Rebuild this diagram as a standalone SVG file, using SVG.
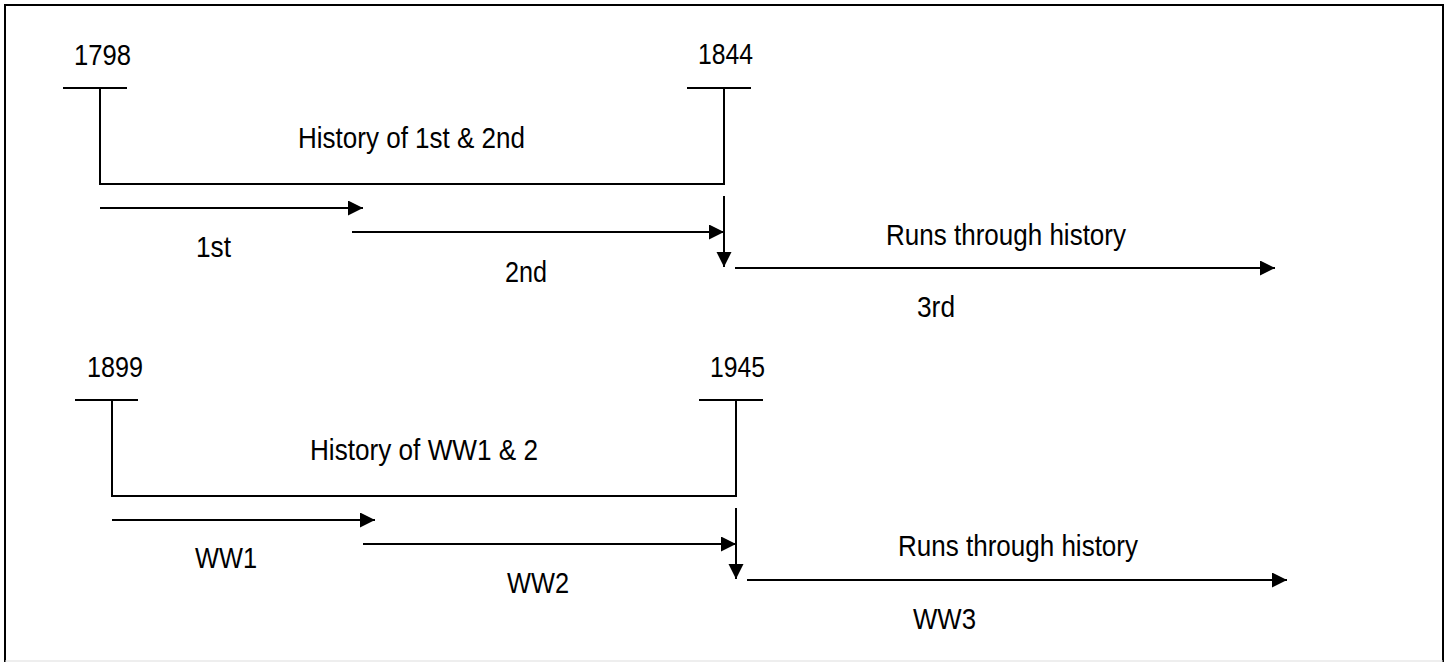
<svg xmlns="http://www.w3.org/2000/svg" width="1449" height="662" viewBox="0 0 1449 662">
<style>
.ln{stroke:#000;stroke-width:2;fill:none}
.t{font-family:"Liberation Sans Narrow","Liberation Sans",Arial,sans-serif;font-size:30px;fill:#000}
</style>
<defs>
<marker id="ah" markerUnits="userSpaceOnUse" markerWidth="16" markerHeight="16" refX="15" refY="7.5" orient="auto" viewBox="0 0 16 16">
<path d="M0,0 L15,7.5 L0,15 z" fill="#000"/>
</marker>
</defs>
<rect x="0" y="0" width="1449" height="662" fill="#fff"/>
<g id="frame">
<path class="ln" d="M5,662 V5 H1443 V662"/>
<line x1="5" y1="661" x2="1443" y2="661" stroke="#ddd" stroke-width="1"/>
</g>
<g id="timeline1">
<g id="y1798"><text class="t" x="74" y="65" textLength="57" lengthAdjust="spacingAndGlyphs">1798</text><line class="ln" x1="63" y1="88" x2="127" y2="88"/></g>
<g id="y1844"><text class="t" x="698" y="64" textLength="55" lengthAdjust="spacingAndGlyphs">1844</text><line class="ln" x1="687" y1="88" x2="751" y2="88"/></g>
<g id="hist1"><text class="t" x="298" y="148" textLength="227" lengthAdjust="spacingAndGlyphs">History of 1st &amp; 2nd</text></g>
<g id="l1st"><text class="t" x="196" y="257" textLength="35" lengthAdjust="spacingAndGlyphs">1st</text></g>
<g id="l2nd"><text class="t" x="505" y="282" textLength="42" lengthAdjust="spacingAndGlyphs">2nd</text></g>
<g id="runs1"><text class="t" x="886" y="245" textLength="240" lengthAdjust="spacingAndGlyphs">Runs through history</text></g>
<g id="l3rd"><text class="t" x="917" y="317" textLength="38" lengthAdjust="spacingAndGlyphs">3rd</text></g>
</g>
<g id="timeline2">
<g id="y1899"><text class="t" x="87" y="377" textLength="56" lengthAdjust="spacingAndGlyphs">1899</text><line class="ln" x1="75" y1="400" x2="138" y2="400"/></g>
<g id="y1945"><text class="t" x="710" y="377" textLength="55" lengthAdjust="spacingAndGlyphs">1945</text><line class="ln" x1="699" y1="400" x2="763" y2="400"/></g>
<g id="hist2"><text class="t" x="310" y="460" textLength="228" lengthAdjust="spacingAndGlyphs">History of WW1 &amp; 2</text></g>
<g id="lww1"><text class="t" x="195" y="568" textLength="62" lengthAdjust="spacingAndGlyphs">WW1</text></g>
<g id="lww2"><text class="t" x="507" y="593" textLength="62" lengthAdjust="spacingAndGlyphs">WW2</text></g>
<g id="runs2"><text class="t" x="898" y="556" textLength="240" lengthAdjust="spacingAndGlyphs">Runs through history</text></g>
<g id="lww3"><text class="t" x="913" y="629" textLength="63" lengthAdjust="spacingAndGlyphs">WW3</text></g>
</g>
<g id="connectors">
<path class="ln" d="M100,88 V185 M100,184 H724 M724,88 V185"/>
<line class="ln" x1="100" y1="208" x2="363" y2="208" marker-end="url(#ah)"/>
<line class="ln" x1="352" y1="232" x2="724" y2="232" marker-end="url(#ah)"/>
<line class="ln" x1="724" y1="196" x2="724" y2="267" marker-end="url(#ah)"/>
<line class="ln" x1="735" y1="268" x2="1275" y2="268" marker-end="url(#ah)"/>
<path class="ln" d="M112,400 V497 M112,496 H736 M736,400 V497"/>
<line class="ln" x1="112" y1="520" x2="375" y2="520" marker-end="url(#ah)"/>
<line class="ln" x1="363" y1="544" x2="736" y2="544" marker-end="url(#ah)"/>
<line class="ln" x1="736" y1="508" x2="736" y2="579" marker-end="url(#ah)"/>
<line class="ln" x1="747" y1="580" x2="1287" y2="580" marker-end="url(#ah)"/>
</g>
</svg>
